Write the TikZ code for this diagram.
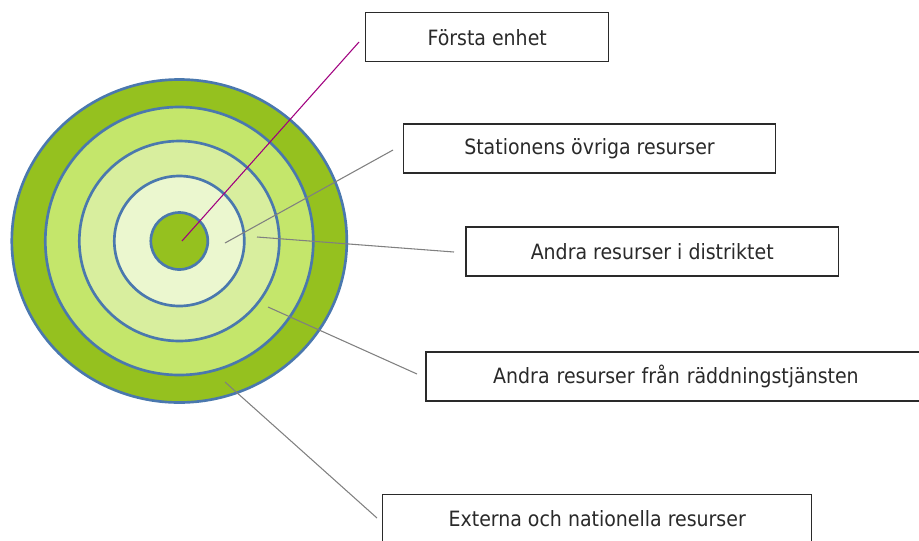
\documentclass[tikz,border=0pt]{standalone}
\usepackage{fontspec}
\setmainfont{DejaVu Sans Condensed}
\definecolor{darkgreen}{HTML}{95C11F}
\definecolor{midgreen}{HTML}{C4E66B}
\definecolor{palegreen}{HTML}{D8EE9E}
\definecolor{lightgreen}{HTML}{EBF7CF}
\definecolor{ringblue}{HTML}{4A78AE}
\definecolor{leadgray}{HTML}{808080}
\definecolor{leadmagenta}{HTML}{A0007F}
\definecolor{textgray}{HTML}{2A2A2A}
\tikzset{
  ring/.style={draw=ringblue, line width=2pt},
  labelbox/.style={draw=textgray, line width=1.1pt, fill=white, inner sep=0pt,
    minimum height=36.75pt, text=textgray, font=\fontsize{15.8}{19}\selectfont},
  lead/.style={draw=leadgray, line width=0.8pt}
}
\begin{document}
\begin{tikzpicture}[x=0.75pt,y=-0.75pt]
      \useasboundingbox (0,0) rectangle (919,540);
      % rings, outside in
      \path[ring, fill=darkgreen] (179.3,241) ellipse [x radius=167.5, y radius=161.5];
      \path[ring, fill=midgreen] (179.3,241) circle [radius=134];
      \path[ring, fill=palegreen] (179.3,241) circle [radius=100];
      \path[ring, fill=lightgreen] (179.3,241) circle [radius=65];
      \path[ring, fill=darkgreen] (179.3,241) circle [radius=28.5];
      % label boxes
      \node[labelbox, minimum width=182.25pt] (forsta) at (487.2,37.2) {Första enhet};
      \node[labelbox, minimum width=279.3pt] (station) at (589.5,148.7) {Stationens övriga resurser};
      \node[labelbox, minimum width=279.3pt] (distrikt) at (652.2,251.7) {Andra resurser i distriktet};
      \node[labelbox, minimum width=405pt, text width=375pt, align=center] (raddning) at (696,376.5)
        {Andra resurser från räddningstjänsten\hspace*{30pt}};
      \node[labelbox, minimum width=321.75pt] (externa) at (597.2,518.8) {Externa och nationella resurser};
      % leader ends
      \coordinate (c1) at (182,241);   \coordinate (e1) at (359,42);
      \coordinate (c2) at (225,243);   \coordinate (e2) at (393,150);
      \coordinate (c3) at (257,237);   \coordinate (e3) at (454,252);
      \coordinate (c4) at (268,307);   \coordinate (e4) at (417,374);
      \coordinate (c5) at (225,382);   \coordinate (e5) at (377,518);
      \begin{scope}[-]
        \draw[draw=leadmagenta, line width=0.8pt] (c1) to (e1);
        \draw[lead] (c2) to (e2);
        \draw[lead] (c3) to (e3);
        \draw[lead] (c4) to (e4);
        \draw[lead] (c5) to (e5);
      \end{scope}
    \end{tikzpicture}
\end{document}
